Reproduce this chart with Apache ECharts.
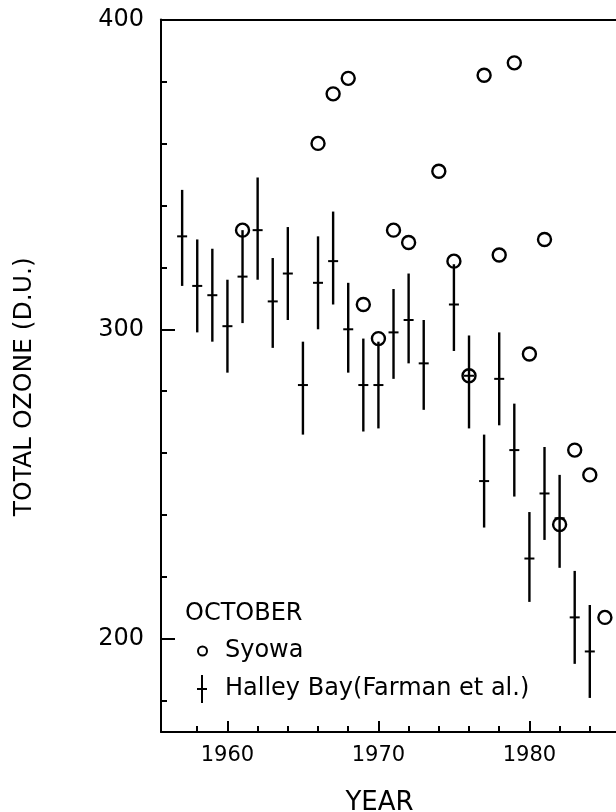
<!DOCTYPE html>
<html>
<head>
<meta charset="utf-8">
<script src="https://cdn.jsdelivr.net/npm/echarts@6/dist/echarts.min.js"></script>
<style>
  html, body { margin: 0; padding: 0; background: #fff; }
  #chart { width: 616px; height: 812px; }
</style>
</head>
<body>
<div id="chart"></div>
<script>
// Syowa, October means
const syowaYears = [1961, 1966, 1967, 1968, 1969, 1970, 1971, 1972, 1974, 1975, 1976, 1977, 1978, 1979, 1980, 1981, 1982, 1983, 1984, 1985];
const syowaOzone = [332, 360, 376, 381, 308, 297, 332, 328, 351, 322, 285, 382, 324, 386, 292, 329, 237, 261, 253, 207];

// Halley Bay (Farman et al.), mean with bar ends
const halleyYears = [1957, 1958, 1959, 1960, 1961, 1962, 1963, 1964, 1965, 1966, 1967, 1968, 1969, 1970, 1971, 1972, 1973, 1975, 1976, 1977, 1978, 1979, 1980, 1981, 1982, 1983, 1984];
const halleyMean  = [330, 314, 311, 301, 317, 332, 309, 318, 282, 315, 322, 300, 282, 282, 299, 303, 289, 308, 285, 251, 284, 261, 226, 247, 239, 207, 196];
const halleyHigh  = [345, 329, 326, 316, 332, 349, 323, 333, 296, 330, 338, 315, 297, 296, 313, 318, 303, 321, 298, 266, 299, 276, 241, 262, 253, 222, 211];
const halleyLow   = [314, 299, 296, 286, 302, 316, 294, 303, 266, 300, 308, 286, 267, 268, 284, 289, 274, 293, 268, 236, 269, 246, 212, 232, 223, 192, 181];

// axis ticks and labels
const xMinorTicks = [1958, 1960, 1962, 1964, 1966, 1968, 1970, 1972, 1974, 1976, 1978, 1980, 1982, 1984];
const xMajorTicks = [1960, 1970, 1980];
const yMinorTicks = [180, 200, 220, 240, 260, 280, 300, 320, 340, 360, 380];
const yMajorTicks = [200, 300];
const yLabels = [200, 300, 400];

const chart = echarts.init(document.getElementById("chart"));

const black = "#000";
const font = "DejaVu Sans";

const xRange = { min: 1955.6, max: 1986 };
const yRange = { min: 170, max: 400 };

const option = {
  backgroundColor: "#fff",
  animation: false,
  textStyle: { fontFamily: font, color: black },
  title: {
    text: "OCTOBER",
    left: 180,
    top: 597,
    textStyle: { fontFamily: font, fontSize: 24, fontWeight: "normal", color: black },
  },
  legend: [
    {
      selectedMode: false,
      left: 192,
      top: 634,
      itemWidth: 9,
      itemHeight: 9,
      textStyle: { fontFamily: font, fontSize: 24, color: black, padding: [0, 0, 0, 13] },
      data: [
        {
          name: "Syowa",
          icon: "circle",
          itemStyle: { color: "rgba(0,0,0,0)", borderColor: black, borderWidth: 2, opacity: 1 },
        },
      ],
    },
    {
      selectedMode: false,
      left: 192,
      top: 670,
      itemWidth: 10,
      itemHeight: 28,
      textStyle: { fontFamily: font, fontSize: 24, color: black, padding: [0, 0, 0, 13] },
      data: [
        {
          name: "Halley Bay(Farman et al.)",
          icon: "path://M4,0H6V28H4Z M0,13H10V15H0Z",
          itemStyle: { color: black, opacity: 1 },
        },
      ],
    },
  ],
  grid: { left: 161, right: -4, top: 19.5, bottom: 80, outerBoundsMode: "none", containLabel: false },
  xAxis: [
    {
      type: "value",
      position: "bottom",
      ...xRange,
      name: "YEAR",
      nameLocation: "middle",
      nameGap: 58,
      nameTextStyle: { fontFamily: font, fontSize: 26, color: black, padding: [0, 22, 0, 0] },
      axisLine: { show: true, onZero: false, lineStyle: { color: black, width: 2 } },
      axisTick: { show: true, inside: true, length: 6, customValues: xMinorTicks, lineStyle: { color: black, width: 2 } },
      axisLabel: {
        customValues: xMajorTicks,
        formatter: (v) => String(v),
        fontFamily: font,
        fontSize: 21,
        color: black,
        margin: 13,
      },
      splitLine: { show: false },
    },
    {
      type: "value",
      position: "bottom",
      ...xRange,
      axisLine: { show: false },
      axisTick: { show: true, inside: true, length: 11, customValues: xMajorTicks, lineStyle: { color: black, width: 2 } },
      axisLabel: { show: false },
      splitLine: { show: false },
    },
    {
      type: "value",
      position: "top",
      ...xRange,
      axisLine: { show: true, onZero: false, lineStyle: { color: black, width: 2 } },
      axisTick: { show: false },
      axisLabel: { show: false },
      splitLine: { show: false },
    },
  ],
  yAxis: [
    {
      type: "value",
      position: "left",
      ...yRange,
      name: "TOTAL OZONE (D.U.)",
      nameLocation: "middle",
      nameGap: 124,
      nameTextStyle: { fontFamily: font, fontSize: 25, color: black, padding: [0, 22, 0, 0] },
      axisLine: { show: true, onZero: false, lineStyle: { color: black, width: 2 } },
      axisTick: { show: true, inside: true, length: 6, customValues: yMinorTicks, lineStyle: { color: black, width: 2 } },
      axisLabel: {
        customValues: yLabels,
        formatter: (v) => String(v),
        fontFamily: font,
        fontSize: 24,
        color: black,
        margin: 17,
      },
      splitLine: { show: false },
    },
    {
      type: "value",
      position: "left",
      ...yRange,
      axisLine: { show: false },
      axisTick: { show: true, inside: true, length: 14, customValues: yMajorTicks, lineStyle: { color: black, width: 2 } },
      axisLabel: { show: false },
      splitLine: { show: false },
    },
  ],
  series: [
    {
      name: "Syowa",
      type: "scatter",
      xAxisIndex: 0,
      yAxisIndex: 0,
      symbol: "circle",
      symbolSize: 13,
      itemStyle: { color: "rgba(0,0,0,0)", borderColor: black, borderWidth: 2.4, opacity: 1 },
      emphasis: { disabled: true },
      data: syowaYears.map((y, i) => [y, syowaOzone[i]]),
      z: 3,
    },
    {
      name: "Halley Bay(Farman et al.)",
      type: "custom",
      xAxisIndex: 0,
      yAxisIndex: 0,
      itemStyle: { color: black },
      data: halleyYears.map((y, i) => [y, halleyMean[i], halleyLow[i], halleyHigh[i]]),
      renderItem: function (params, api) {
        const x = api.value(0);
        const c = api.coord([x, api.value(1)]);
        const lo = api.coord([x, api.value(2)]);
        const hi = api.coord([x, api.value(3)]);
        return {
          type: "group",
          children: [
            {
              type: "line",
              shape: { x1: lo[0], y1: lo[1], x2: hi[0], y2: hi[1] },
              style: { stroke: black, lineWidth: 2.4 },
            },
            {
              type: "line",
              shape: { x1: c[0] - 5, y1: c[1], x2: c[0] + 5, y2: c[1] },
              style: { stroke: black, lineWidth: 2 },
            },
          ],
        };
      },
      z: 2,
    },
  ],
};

chart.setOption(option);
</script>
</body>
</html>
